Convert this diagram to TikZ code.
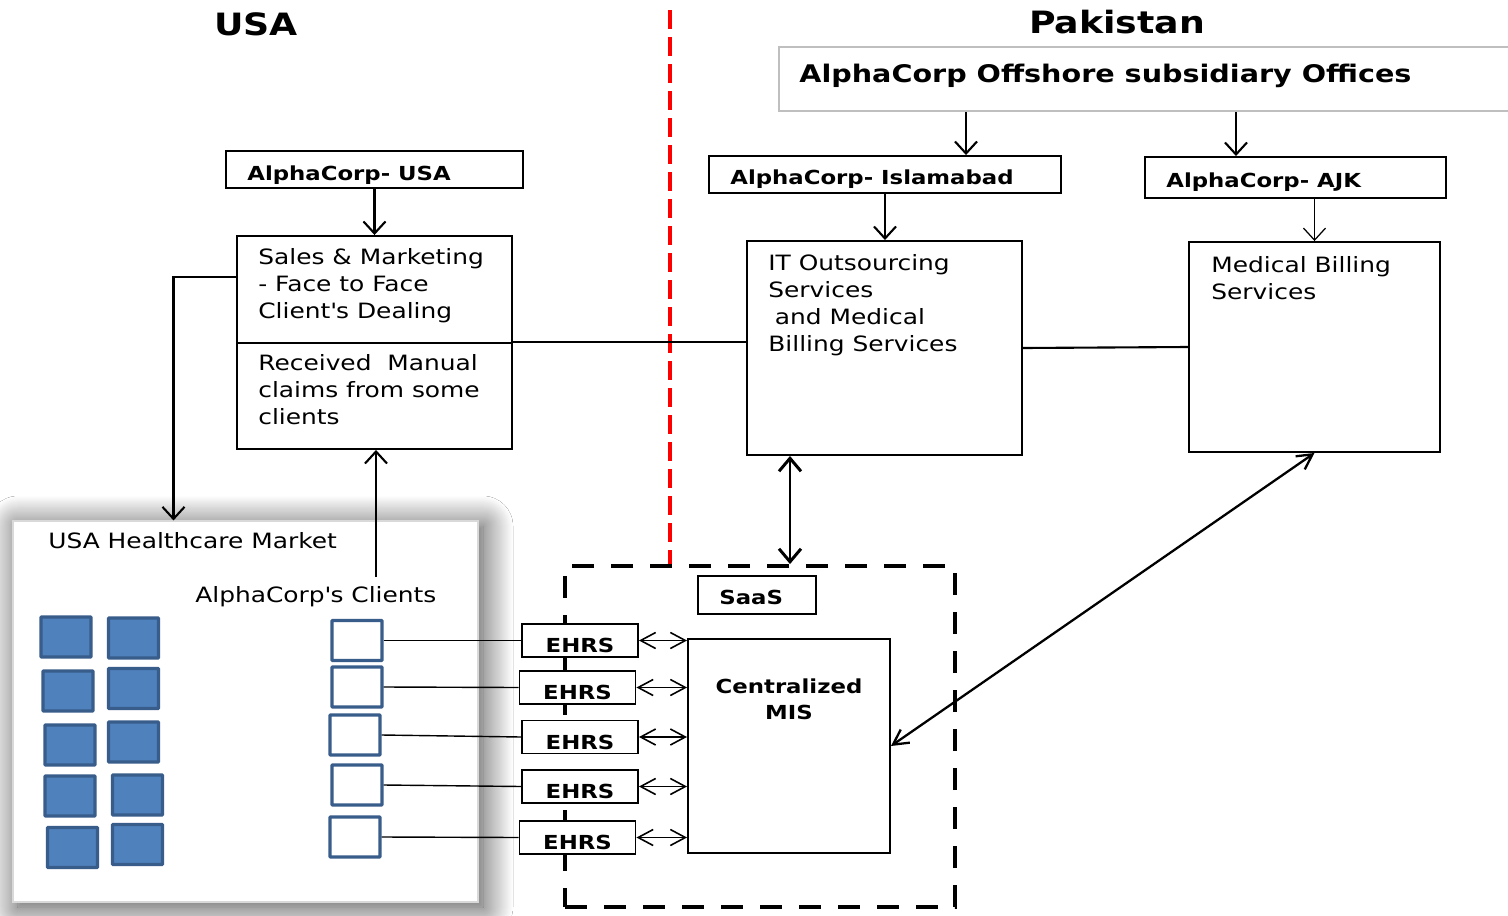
\documentclass[tikz,border=0pt]{standalone}
\usepackage{fontspec}
\setmainfont{DejaVu Sans}[FakeStretch=1.18]
\usetikzlibrary{arrows.meta,shadows.blur,positioning}
\definecolor{tileblue}{HTML}{4F81BD}
\definecolor{tileedge}{HTML}{385D8A}
\definecolor{bordergray}{HTML}{BFBFBF}
\tikzset{
  box/.style={draw,line width=1.1pt,fill=white,inner sep=0pt},
  txt/.style={font=\fontsize{12}{15.3}\selectfont,align=left,inner sep=0pt},
  hdr/.style={font=\fontsize{11}{15.3}\selectfont\bfseries,inner sep=0pt},
  title/.style={font=\fontsize{17.5}{20}\selectfont\bfseries,inner sep=0pt},
  arr/.style={line width=1.2pt,-{Straight Barb[length=2.4mm,width=4.4mm]}},
  thinarr/.style={line width=0.7pt,-{Straight Barb[length=2.4mm,width=4.4mm]}},
  darr/.style={line width=0.9pt,{Straight Barb[length=3mm,width=3.2mm]}-{Straight Barb[length=3mm,width=3.2mm]}},
  bigarr/.style={line width=1.7pt,{Straight Barb[length=2.6mm,width=4.4mm]}-{Straight Barb[length=2.6mm,width=4.4mm]}},
  tile/.style={draw=tileedge,fill=tileblue,line width=1.8pt,rounded corners=0.4pt,minimum width=10mm,minimum height=8mm,inner sep=0pt},
  client/.style={tile,fill=white},
  ehrsbox/.style={box,minimum width=23.2mm,minimum height=6.6mm}
}
\begin{document}
\begin{tikzpicture}[x=0.2mm,y=-0.2mm]
\useasboundingbox[fill=white] (0,0) rectangle (1508,916);
\node[title] (usaT) at (256,24) {USA};
\node[title] (pakT) at (1117,22) {Pakistan};
\coordinate (border) at (670,10);
\node[draw=black,line width=2.2pt,dash pattern=on 4.4mm off 3.4mm,minimum width=78mm,minimum height=68.2mm] (cloud) at (760,736.5) {};
\draw[red,line width=2.8pt,dash pattern=on 3.8mm off 1.6mm] (border) -- (border |- cloud.north);
\node[draw=bordergray,line width=1.2pt,fill=white,minimum width=147.2mm,minimum height=12.8mm] (off) at (1147,79) {};
\node[hdr,font=\fontsize{13.8}{16}\selectfont\bfseries,anchor=base west] at (799,82) {AlphaCorp Offshore subsidiary Offices};
\node[box,minimum width=59.4mm,minimum height=7.4mm] (usa) at (374.5,169.5) {};
\node[hdr,anchor=base west] at (247,180) {AlphaCorp- USA};
\node[box,minimum width=70.4mm,minimum height=7.4mm] (isb) at (885,174.5) {};
\node[hdr,anchor=base west] at (730,184) {AlphaCorp- Islamabad};
\node[box,minimum width=60.2mm,minimum height=8.2mm] (ajk) at (1295.5,177.5) {};
\node[hdr,anchor=base west] at (1166,187) {AlphaCorp- AJK};
\node[box,minimum width=55mm,minimum height=21.4mm] (sales) at (374.5,289.5) {};
\node[txt,anchor=north west] at (258,248) {Sales \& Marketing\\- Face to Face\\Client\textquotesingle s Dealing};
\node[box,minimum width=55mm,minimum height=21.2mm] (claims) at (374.5,396) {};
\node[txt,anchor=north west] at (258,354) {Received\ \ Manual\\claims from some\\clients};
\node[box,minimum width=55mm,minimum height=42.8mm] (itbox) at (884.5,348) {};
\node[txt,anchor=north west] at (768,254) {IT Outsourcing\\Services\\\hspace{1.3mm}and Medical\\Billing Services};
\node[box,minimum width=50.2mm,minimum height=42mm] (medbox) at (1314.5,347) {};
\node[txt,anchor=north west] at (1211,256) {Medical Billing\\Services};
\draw[arr] ([xshift=16.2mm]isb.north |- off.south) -- ([xshift=16.2mm]isb.north);
\draw[arr] ([xshift=-11.9mm]ajk.north |- off.south) -- ([xshift=-11.9mm]ajk.north);
\draw[arr] (isb.south) -- (isb.south |- itbox.north);
\draw[thinarr] (medbox.north |- ajk.south) -- (medbox.north);
\draw[arr] (usa.south) -- (sales.north);
\draw[line width=1.2pt] (claims.north east) -- (itbox.west |- claims.north east);
\draw[line width=1.2pt] (itbox.east) -- (medbox.west);
\node[draw=bordergray!60,line width=0.6pt,fill=white,minimum width=93mm,minimum height=76.2mm,
  blur shadow={shadow xshift=1mm,shadow yshift=-1mm,shadow blur radius=6mm,shadow blur steps=30,shadow blur extra rounding=0pt,shadow opacity=75}] (market) at (245.5,711.5) {};
\node[txt,anchor=north west] at (48,532) {USA Healthcare Market};
\node[txt,anchor=north west] at (195,586) {AlphaCorp\textquotesingle s Clients};
\coordinate (clientsTop) at (376,577);
\draw[arr] ([yshift=2.5mm]sales.west) -| ([xshift=-14.4mm]market.north);
\draw[arr] (clientsTop) -- (clientsTop |- claims.south);
\foreach \tx/\ty in {66/637,68/691,70/745,70/796,72.5/847.5,133.5/638,133.5/688.5,133.5/742,137.5/795,137.5/844.5}
  \node[tile] at (\tx,\ty) {};
\node[box,minimum width=23.6mm,minimum height=7.6mm] (saas) at (757,595) {};
\node[hdr,anchor=base west] at (719,604) {SaaS};
\node[box,minimum width=40.4mm,minimum height=42.8mm] (mis) at (789,746) {};
\node[hdr,align=center,anchor=north] at (789,678) {Centralized\\MIS};
\foreach \i/\cx/\cy/\ex/\ey in {1/357/640.5/580/640.5,2/357/687/577.5/687.5,3/355/735/580/737,4/357/785/580/786.5,5/355/837/577.5/837.5}{
  \node[client] (c\i) at (\cx,\cy) {};
  \node[ehrsbox] (e\i) at (\ex,\ey) {};
  \node[hdr,anchor=base] at ([yshift=1mm]e\i.south) {EHRS};
  \draw[line width=0.8pt] (c\i.east) -- (e\i.west);
  \draw[darr] (e\i.east) -- (e\i.east -| mis.west);
}
\draw[bigarr] ([xshift=-18.9mm]itbox.south) -- ([xshift=-18.9mm]itbox.south |- cloud.north);
\draw[darr,line width=1.3pt] (medbox.south) -- (mis.east);
\end{tikzpicture}
\end{document}
